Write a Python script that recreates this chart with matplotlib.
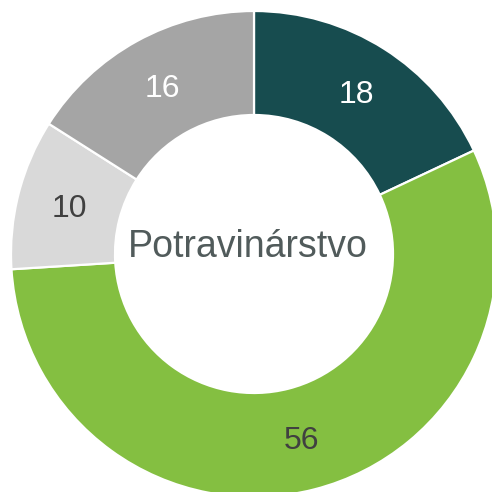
import matplotlib
matplotlib.use("Agg")
import matplotlib.pyplot as plt
import numpy as np

categories = ["A", "B", "C", "D"]
values = [18, 56, 10, 16]
colors = ["#174C4F", "#84BF41", "#D9D9D9", "#A5A5A5"]
label_colors = ["white", "#404040", "#404040", "white"]
center_text = "Potravinárstvo"

plt.rcParams['font.family'] = ['Liberation Sans', 'DejaVu Sans']

fig = plt.figure(figsize=(4.92, 4.92), dpi=100)
ax = fig.add_axes([0, 0, 1, 1])
R = 243.0
cx, cy = 254.0, 254.0
width = (243 - 139) / 243

wedges, _ = ax.pie(values, startangle=90, counterclock=False, colors=colors,
                   radius=1.0, wedgeprops=dict(width=width, edgecolor="white", linewidth=1.6))
total = sum(values)
ang = 90.0
rlab = 1.0 - width / 2
for v, c in zip(values, label_colors):
    mid = ang - v / total * 360 / 2
    ang -= v / total * 360
    x = rlab * np.cos(np.deg2rad(mid))
    y = rlab * np.sin(np.deg2rad(mid)) - 0.01
    ax.text(x, y, str(v), ha="center", va="center", fontsize=23, color=c)

ax.text(-0.025, 0.03, center_text, ha="center", va="center", fontsize=27, color="#515B5B")

ax.set_xlim(-cx / R, (492 - cx) / R)
ax.set_ylim(-(492 - cy) / R, cy / R)
ax.set_aspect("equal")
ax.axis("off")
fig.savefig("out.png", dpi=100)
